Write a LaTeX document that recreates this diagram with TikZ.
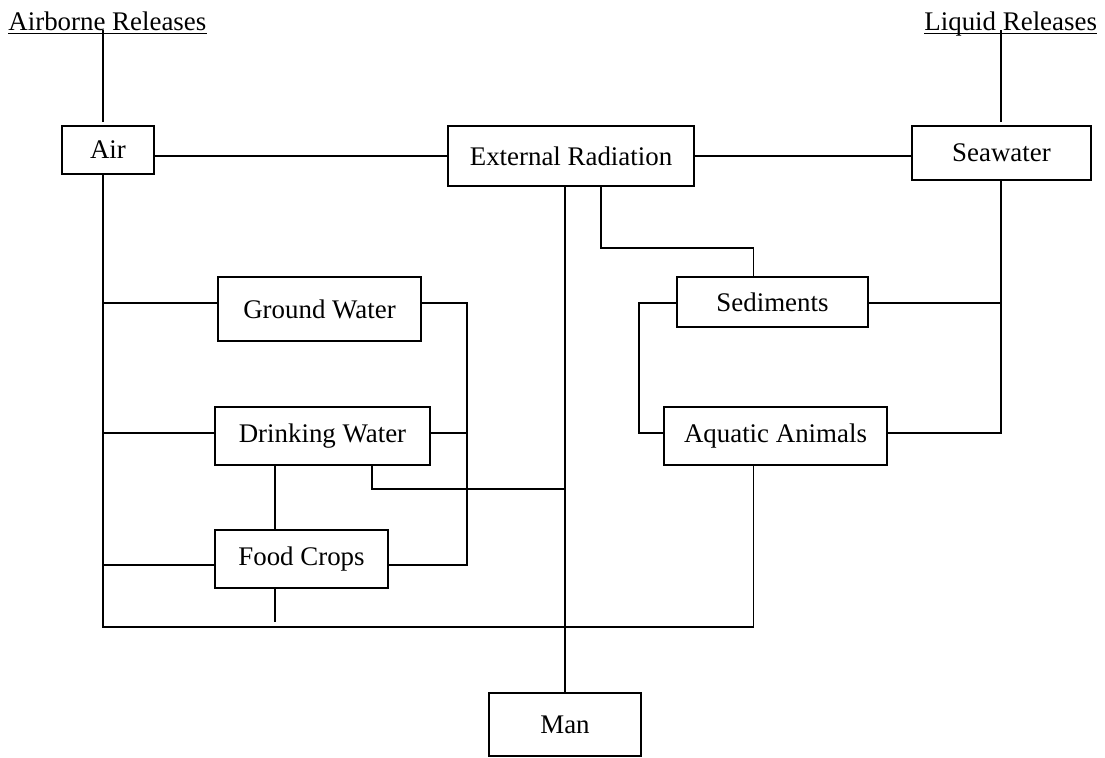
\documentclass[tikz,border=0pt]{standalone}
\usepackage{fontspec}
\setmainfont{Liberation Serif}

\begin{document}
\begin{tikzpicture}[
	x=0.45pt, y=-0.45pt,
	link/.style={ line width=0.55pt },
	rel/.style={ inner sep=0pt, anchor=base west, font=\fontsize{12.1}{14}\selectfont },
	box/.style 2 args={ draw, line width=0.9pt, inner sep=0pt, minimum width=#1*0.45pt, minimum height=#2*0.45pt, font=\fontsize{12.1}{14}\selectfont }
]
\useasboundingbox (0,0) rectangle (1105,757);

\node at (8,30) (airrel) [rel] {Airborne Releases};
\node at (924,30) (liqrel) [rel] {Liquid Releases};
\draw[link] ([yshift=-1.4pt]airrel.base west) -- ([yshift=-1.4pt]airrel.base east);
\draw[link] ([yshift=-1.4pt]liqrel.base west) -- ([yshift=-1.4pt]liqrel.base east);

\node at (108,150) (air) [box={92}{48}] {Air};
\node at (571,156) (ext) [box={246}{60}] {External Radiation};
\node at (1001.5,153) (sea) [box={179}{54}] {Seawater};
\node at (319.5,309) (gw) [box={203}{64}] {Ground Water};
\node at (772.5,302) (sed) [box={191}{50}] {Sediments};
\node at (322.5,436) (dw) [box={215}{58}] {Drinking Water};
\node at (775.5,436) (aqua) [box={223}{58}] {Aquatic Animals};
\node at (301.5,559) (food) [box={173}{58}] {Food Crops};
\node at (565,724.5) (man) [box={152}{63}] {Man};

\coordinate (a1) at (103,122);
\coordinate (l1) at (1001,122);
\coordinate (tl) at (103,627);
\coordinate (tr) at (753.6,627);
\coordinate (gb) at (467,303);
\coordinate (db) at (467,433);
\coordinate (fb) at (467,565);
\coordinate (df) at (275,622);
\coordinate (dm) at (372,489);
\coordinate (es) at (601,248);
\coordinate (sl) at (639,303);
\coordinate (sv) at (1001,303);

\draw[link] (a1) -- (a1 |- airrel.base);
\draw[link] (l1) -- (l1 |- liqrel.base);
\draw[link] (air.east |- ext.west) -- (ext.west);
\draw[link] (ext.east) -- (sea.west |- ext.east);

\draw[link] (air.south -| tl) -- (tl) -- (tr) -- (aqua.south -| tr);
\draw[link] (tl |- gb) -- (gw.west |- gb);
\draw[link] (tl |- db) -- (dw.west |- db);
\draw[link] (tl |- fb) -- (food.west |- fb);
\draw[link] (gw.east |- gb) -- (gb) -- (fb) -- (food.east |- fb);
\draw[link] (dw.east |- db) -- (db);
\draw[link] (dw.south -| df) -- (food.north -| df);
\draw[link] (food.south -| df) -- (df);
\draw[link] (dw.south -| dm) -- (dm) -- (dm -| man.north);
\draw[link] (ext.south -| man.north) -- (man.north);

\draw[link] (ext.south -| es) -- (es) -- (es -| tr) -- (sed.north -| tr);
\draw[link] (sed.west |- sl) -- (sl) -- (sl |- db) -- (aqua.west |- db);
\draw[link] (sed.east |- sv) -- (sv);
\draw[link] (sea.south -| sv) -- (sv |- db) -- (aqua.east |- db);

\end{tikzpicture}
\end{document}
